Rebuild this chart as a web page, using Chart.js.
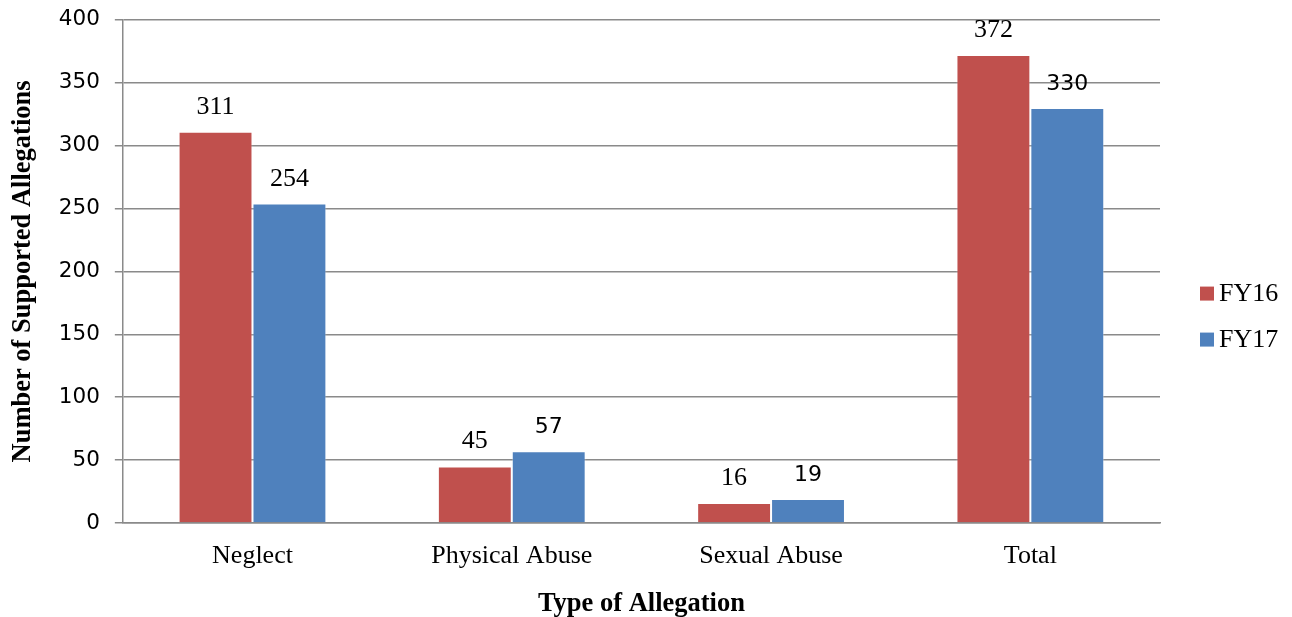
<!DOCTYPE html>
<html>
<head>
<meta charset="utf-8">
<script src="https://cdn.jsdelivr.net/npm/chart.js@4"></script>
<style>
  body { margin: 0; background: #fff; }
</style>
</head>
<body>
<canvas id="myChart" width="1292" height="617"></canvas>
<script>
var categories = ["Neglect", "Physical Abuse", "Sexual Abuse", "Total"];
var fy16 = [311, 45, 16, 372];
var fy17 = [254, 57, 19, 330];
var yTicks = [0, 50, 100, 150, 200, 250, 300, 350, 400];

var serif = "'Liberation Serif', 'Times New Roman', serif";
var sans = "'DejaVu Sans', sans-serif";
var gridGray = "#8a8a8a";

// which value labels are set in sans instead of serif, per dataset
var sansLabels = [[], [1, 2, 3]];

// value labels over each bar
var barValues = {
    id: "barValues",
    afterDatasetsDraw: function (chart) {
        var ctx = chart.ctx;
        ctx.save();
        ctx.fillStyle = "#000";
        ctx.textAlign = "center";
        ctx.textBaseline = "alphabetic";
        chart.data.datasets.forEach(function (ds, i) {
            var meta = chart.getDatasetMeta(i);
            meta.data.forEach(function (bar, j) {
                ctx.font = sansLabels[i].indexOf(j) >= 0 ? "22px " + sans : "26px " + serif;
                ctx.fillText(String(ds.data[j]), bar.x, bar.y - 18);
            });
        });
        ctx.restore();
    }
};

// legend to the right of the plot: small square, then the series name
var sideLegend = {
    id: "sideLegend",
    afterDraw: function (chart) {
        var ctx = chart.ctx;
        var area = chart.chartArea;
        var x = area.right + 40;
        var y = area.top + area.height * 0.544;
        ctx.save();
        ctx.font = "26px " + serif;
        ctx.textBaseline = "middle";
        ctx.textAlign = "left";
        chart.data.datasets.forEach(function (ds, i) {
            var cy = y + i * 46;
            ctx.fillStyle = ds.backgroundColor;
            ctx.fillRect(x, cy - 7, 14, 14);
            ctx.fillStyle = "#000";
            ctx.fillText(ds.label, x + 19, cy + 1);
        });
        ctx.restore();
    }
};

new Chart("myChart", {
    type: "bar",
    data: {
        labels: categories,
        datasets: [{
            label: "FY16",
            data: fy16,
            backgroundColor: "#C0504D",
            borderColor: "rgba(255,255,255,0.35)",
            borderWidth: 1
        }, {
            label: "FY17",
            data: fy17,
            backgroundColor: "#4F81BD",
            borderColor: "rgba(255,255,255,0.35)",
            borderWidth: 1
        }]
    },
    plugins: [barValues, sideLegend],
    options: {
        responsive: false,
        animation: false,
        categoryPercentage: 0.57,
        barPercentage: 1,
        layout: { padding: { left: 7, right: 132, top: 0, bottom: -3 } },
        plugins: {
            tooltip: { enabled: false },
            legend: { display: false }
        },
        scales: {
            x: {
                grid: { display: false },
                border: { display: true, color: gridGray, width: 1.5 },
                ticks: { color: "#000", padding: 10, font: { family: serif, size: 26 } },
                title: {
                    display: true,
                    text: "Type of Allegation",
                    color: "#000",
                    padding: { top: 6, bottom: 0 },
                    font: { family: serif, size: 26.5, weight: "bold" }
                }
            },
            y: {
                min: 0,
                max: 400,
                afterBuildTicks: function (axis) {
                    axis.ticks = yTicks.map(function (v) { return { value: v }; });
                },
                // long tick slot, only the 8px next to the axis is stroked
                grid: {
                    color: gridGray,
                    lineWidth: 1.5,
                    tickLength: 16,
                    tickBorderDash: [8, 8],
                    tickBorderDashOffset: 8
                },
                border: { display: true, color: gridGray, width: 1.5 },
                ticks: { color: "#000", padding: 7, font: { family: sans, size: 21.5 } },
                title: {
                    display: true,
                    text: "Number of Supported Allegations",
                    color: "#000",
                    padding: { top: 0, bottom: 13 },
                    font: { family: serif, size: 26.5, weight: "bold" }
                }
            }
        }
    }
});
</script>
</body>
</html>
